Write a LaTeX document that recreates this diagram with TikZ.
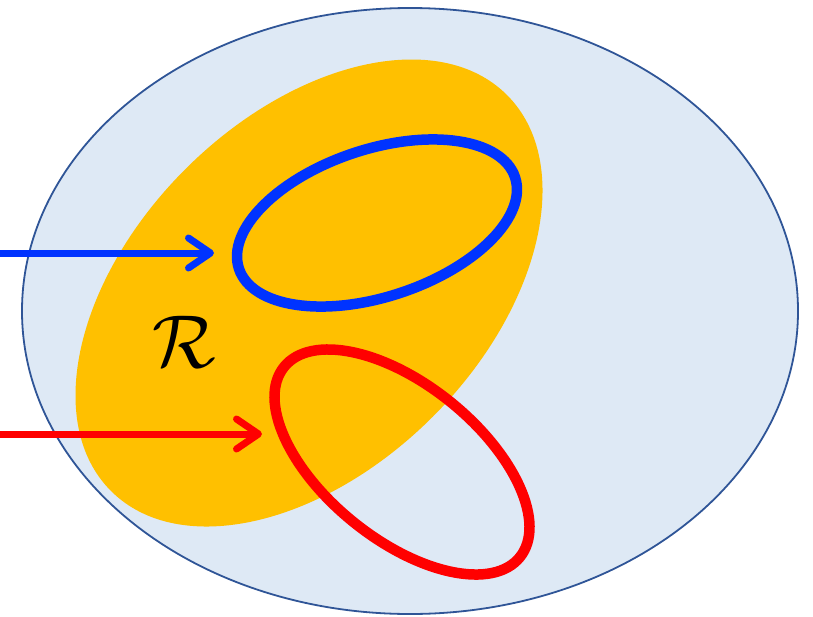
\documentclass[tikz,border=0pt]{standalone}
\usepackage{amsmath,amssymb}
\usetikzlibrary{arrows.meta}

\definecolor{setfill}{RGB}{222,233,245}
\definecolor{setdraw}{RGB}{47,85,151}
\definecolor{regionfill}{RGB}{255,192,0}
\definecolor{bluecurve}{RGB}{0,51,255}
\definecolor{redcurve}{RGB}{255,0,0}

\begin{document}
\begin{tikzpicture}[
        x=1pt, y=-1pt,
        universe/.style={fill=setfill, draw=setdraw, line width=1.8pt},
        region/.style={fill=regionfill, draw=none},
        loopline/.style={line width=10.5pt},
        pointer/.style={line width=7pt, -{Straight Barb[length=22pt, width=30pt, round]}}
    ]
        \useasboundingbox (0,0) rectangle (813,616);

        \draw[universe] (410,311) ellipse [x radius=388, y radius=303];

        \fill[region, rotate around={45:(309,293)}] (309,293) ellipse [x radius=280, y radius=175];

        \draw[loopline, bluecurve, rotate around={18.3:(377,223)}] (377,223) ellipse [x radius=145.4, y radius=73.7];

        \draw[loopline, redcurve, rotate around={-38.9:(402,462)}] (402,462) ellipse [x radius=151.5, y radius=77.2];

        \node[scale=7.5] (rlabel) at (184,342) {$\mathcal{R}$};

        \coordinate (bluestart) at (0,253);
        \coordinate (bluetip) at (214,253);
        \coordinate (redstart) at (0,434);
        \coordinate (redtip) at (262,434);

        \draw[pointer, bluecurve] (bluestart) -- (bluetip);
        \draw[pointer, redcurve] (redstart) -- (redtip);
    \end{tikzpicture}
\end{document}
